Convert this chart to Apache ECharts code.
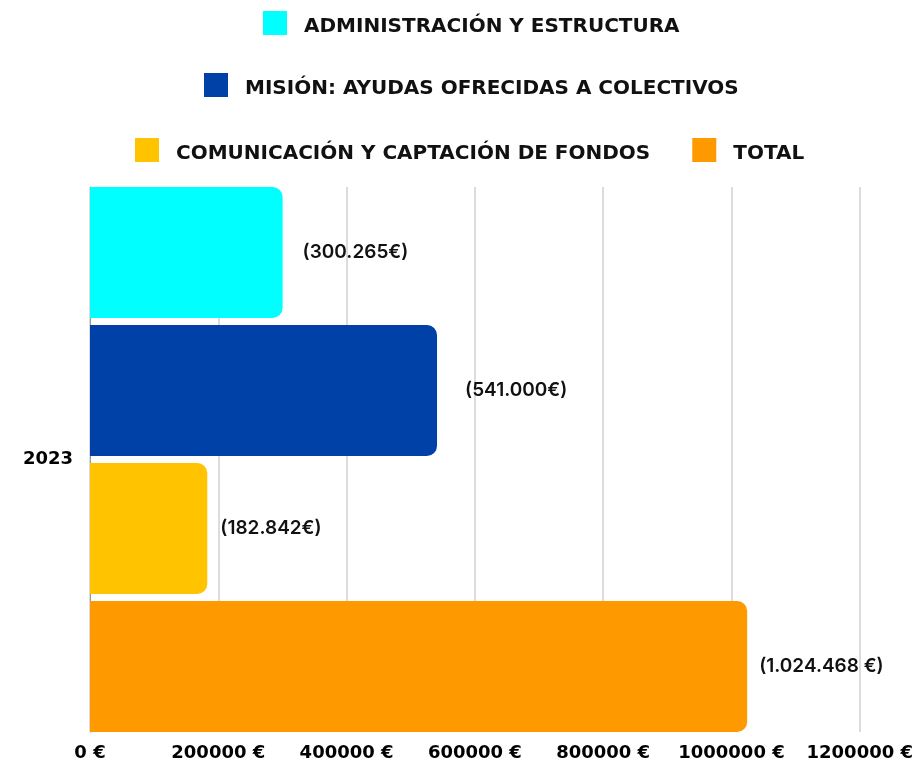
<!DOCTYPE html>
<html>
<head>
<meta charset="utf-8">
<script src="https://cdn.jsdelivr.net/npm/echarts@6/dist/echarts.min.js"></script>
<style>
  html, body { margin: 0; padding: 0; background: #fff; }
  #chart { width: 916px; height: 765px; }
</style>
</head>
<body>
<div id="chart"></div>
<script>
const categories = ['2023'];
const seriesNames = [
  'ADMINISTRACIÓN Y ESTRUCTURA',
  'MISIÓN: AYUDAS OFRECIDAS A COLECTIVOS',
  'COMUNICACIÓN Y CAPTACIÓN DE FONDOS',
  'TOTAL'
];
const seriesValues = [300265, 541000, 182842, 1024468];
const valueLabels = ['(300.265€)', '(541.000€)', '(182.842€)', '(1.024.468 €)'];
const seriesColors = ['#00FFFF', '#0041A8', '#FFC300', '#FF9900'];
const labelDistances = [20, 28, 13, 12];

const myChart = echarts.init(document.getElementById('chart'));

const legendBase = {
  icon: 'rect',
  itemWidth: 24,
  itemHeight: 24,
  itemGap: 42,
  formatter: name => '{t|' + name + '}',
  textStyle: {
    rich: {
      t: {
        fontFamily: 'DejaVu Sans',
        fontWeight: 'bold',
        fontSize: 20,
        color: '#111',
        padding: [8, 0, 0, 12]
      }
    }
  }
};

const option = {
  animation: false,
  legend: [
    Object.assign({}, legendBase, { top: 6, left: 258, data: [seriesNames[0]] }),
    Object.assign({}, legendBase, { top: 68, left: 199, data: [seriesNames[1]] }),
    Object.assign({}, legendBase, { top: 133, left: 130, data: [seriesNames[2], seriesNames[3]] })
  ],
  grid: {
    left: 90,
    right: 56,
    top: 187,
    bottom: 33,
    containLabel: false
  },
  xAxis: {
    type: 'value',
    min: 0,
    max: 1200000,
    interval: 200000,
    axisLine: { show: false },
    axisTick: { show: false },
    splitLine: { lineStyle: { color: '#dcdcdc', width: 2 } },
    axisLabel: {
      formatter: v => v + ' €',
      fontFamily: 'DejaVu Sans',
      fontWeight: 'bold',
      fontSize: 18,
      color: '#000',
      margin: 12
    }
  },
  yAxis: {
    type: 'category',
    inverse: true,
    data: categories,
    axisLine: { show: true, lineStyle: { color: '#999', width: 1 } },
    axisTick: { show: false },
    axisLabel: {
      fontFamily: 'DejaVu Sans',
      fontWeight: 'bold',
      fontSize: 18,
      color: '#000',
      margin: 17
    }
  },
  series: seriesNames.map((name, i) => ({
    name: name,
    type: 'bar',
    data: [seriesValues[i]],
    barCategoryGap: 0,
    barGap: '5.3%',
    itemStyle: { color: seriesColors[i], borderRadius: [0, 10, 10, 0] },
    label: {
      show: true,
      position: 'right',
      distance: labelDistances[i],
      formatter: () => valueLabels[i],
      fontFamily: 'Inter',
      fontWeight: 600,
      fontSize: 19,
      color: '#111'
    }
  }))
};

myChart.setOption(option);
window.addEventListener('resize', function () {
  myChart.resize();
});
</script>
</body>
</html>
